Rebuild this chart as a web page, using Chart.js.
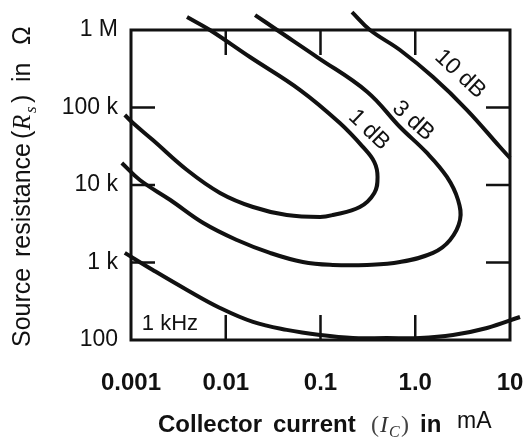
<!DOCTYPE html>
<html>
<head>
<meta charset="utf-8">
<script src="https://cdn.jsdelivr.net/npm/chart.js@4.4.1/dist/chart.umd.min.js"></script>
<style>
  html, body { margin: 0; padding: 0; background: #fff; }
  #noiseChart { display: block; }
</style>
</head>
<body>
<canvas id="noiseChart" width="523" height="441"></canvas>
<script>
// collector current in mA, source resistance in ohms
const xTicks = [0.001, 0.01, 0.1, 1, 10];
const xTickLabels = ['0.001', '0.01', '0.1', '1.0', '10'];
const yTicks = [100, 1e3, 1e4, 1e5, 1e6];
const yTickLabels = ['100', '1 k', '10 k', '100 k', '1 M'];

const oneDbCurrent = [0.00086, 0.00105, 0.0017, 0.0039, 0.0087, 0.0194, 0.044, 0.099, 0.135, 0.26, 0.37, 0.40, 0.37, 0.28, 0.16, 0.061, 0.018, 0.0068, 0.0039];
const oneDbResistance = [80000, 63000, 38000, 15600, 7900, 5200, 4100, 3870, 4100, 5200, 7900, 12700, 19800, 31000, 63000, 168000, 448000, 1000000, 1470000];

const threeDbCurrent = [0.0008, 0.00124, 0.0026, 0.0058, 0.0131, 0.0293, 0.065, 0.135, 0.31, 0.69, 1.54, 2.33, 2.97, 2.83, 2.16, 1.33, 0.69, 0.31, 0.092, 0.0348, 0.0204];
const threeDbResistance = [19200, 11600, 6400, 3230, 1950, 1330, 1015, 930, 930, 1015, 1330, 1950, 3540, 6400, 12700, 25900, 56000, 160000, 448000, 1000000, 1560000];

const tenDbUpperCurrent = [0.215, 0.333, 0.69, 1.54, 3.52, 7.84, 10];
const tenDbUpperResistance = [1700000, 1000000, 552000, 247000, 92800, 30900, 22300];

const tenDbLowerCurrent = [0.00086, 0.0017, 0.0039, 0.0087, 0.0194, 0.044, 0.099, 0.22, 0.50, 1.12, 2.5, 5.72, 12.75];
const tenDbLowerResistance = [1330, 800, 442, 259, 171, 135, 116, 106, 106, 106, 116, 143, 198];

const ink = '#111';
const sans = "'Liberation Sans', Arial, sans-serif";
const serif = "'Liberation Serif', 'Times New Roman', serif";

const curveLabels = [
    { text: '1 dB', current: 0.325, resistance: 51300, angle: 44 },
    { text: '3 dB', current: 0.947, resistance: 67000, angle: 42 },
    { text: '10 dB', current: 2.97, resistance: 270000, angle: 43 }
];

function toPoints(xs, ys) {
    return xs.map((v, i) => ({ x: v, y: ys[i] }));
}

function curve(xs, ys) {
    return {
        data: toPoints(xs, ys),
        showLine: true,
        borderColor: ink,
        borderWidth: 4,
        pointRadius: 0,
        tension: 0.4,
        fill: false,
        clip: false
    };
}

function drawPieces(ctx, pieces) {
    pieces.forEach(p => {
        ctx.font = p.font;
        ctx.fillStyle = p.color || ink;
        ctx.fillText(p.text, p.x, p.dy || 0);
    });
}

const frameAndLabels = {
    id: 'frameAndLabels',
    beforeDatasetsDraw(chart) {
        const { ctx, chartArea: a, scales: { x, y } } = chart;
        ctx.save();
        ctx.strokeStyle = ink;
        ctx.lineWidth = 3;
        ctx.strokeRect(a.left, a.top, a.right - a.left, a.bottom - a.top);
        ctx.lineWidth = 2.5;
        ctx.beginPath();
        xTicks.slice(1, -1).forEach(v => {
            const px = x.getPixelForValue(v);
            ctx.moveTo(px, a.top); ctx.lineTo(px, a.top + 25);
            ctx.moveTo(px, a.bottom); ctx.lineTo(px, a.bottom - 25);
        });
        yTicks.slice(1, -1).forEach(v => {
            const py = y.getPixelForValue(v);
            ctx.moveTo(a.left, py); ctx.lineTo(a.left + 24, py);
            ctx.moveTo(a.right, py); ctx.lineTo(a.right - 24, py);
        });
        ctx.stroke();
        ctx.restore();
    },
    afterDraw(chart) {
        const { ctx, scales: { x, y } } = chart;
        ctx.save();
        ctx.fillStyle = ink;

        // contour labels along the curves
        ctx.font = '23px ' + sans;
        ctx.textAlign = 'center';
        ctx.textBaseline = 'middle';
        curveLabels.forEach(l => {
            ctx.save();
            ctx.translate(x.getPixelForValue(l.current), y.getPixelForValue(l.resistance));
            ctx.rotate(l.angle * Math.PI / 180);
            ctx.fillText(l.text, 0, 0);
            ctx.restore();
        });

        ctx.font = '22px ' + sans;
        ctx.textAlign = 'left';
        ctx.textBaseline = 'alphabetic';
        ctx.fillText('1 kHz', x.getPixelForValue(0.0013), y.getPixelForValue(135));

        // x axis title
        ctx.save();
        ctx.translate(0, 432);
        drawPieces(ctx, [
            { text: 'Collector', x: 158, font: 'bold 24px ' + sans },
            { text: 'current', x: 273, font: 'bold 24px ' + sans },
            { text: '(', x: 371, font: '24px ' + serif, color: '#444' },
            { text: 'I', x: 380, font: 'italic 24px ' + serif, color: '#333' },
            { text: 'C', x: 389, dy: 5, font: 'italic 16px ' + serif, color: '#333' },
            { text: ')', x: 401, font: '24px ' + serif, color: '#444' },
            { text: 'in', x: 420, font: 'bold 24px ' + sans },
            { text: 'mA', x: 457, dy: -4, font: '23px ' + sans }
        ]);
        ctx.restore();

        // y axis title, read bottom to top
        ctx.save();
        ctx.translate(30, 347);
        ctx.rotate(-Math.PI / 2);
        drawPieces(ctx, [
            { text: 'Source', x: 0, font: '25px ' + sans },
            { text: 'resistance', x: 90, font: '25px ' + sans },
            { text: '(', x: 208, font: '25px ' + sans },
            { text: 'R', x: 217, font: 'italic 25px ' + serif },
            { text: 's', x: 234, dy: 6, font: 'italic 17px ' + serif },
            { text: ')', x: 244, font: '25px ' + sans },
            { text: 'in', x: 265, font: '25px ' + sans },
            { text: 'Ω', x: 302, font: '25px ' + sans }
        ]);
        ctx.restore();

        ctx.restore();
    }
};

const noiseChart = new Chart(document.getElementById('noiseChart'), {
    type: 'scatter',
    data: {
        datasets: [
            curve(oneDbCurrent, oneDbResistance),
            curve(threeDbCurrent, threeDbResistance),
            curve(tenDbUpperCurrent, tenDbUpperResistance),
            curve(tenDbLowerCurrent, tenDbLowerResistance)
        ]
    },
    options: {
        responsive: false,
        animation: false,
        devicePixelRatio: 1,
        layout: { padding: { top: 30, right: 13, left: 0, bottom: 0 } },
        plugins: {
            legend: { display: false },
            tooltip: { enabled: false }
        },
        scales: {
            x: {
                type: 'logarithmic',
                min: 0.001,
                max: 10,
                grid: { display: false, drawTicks: false },
                border: { display: false },
                afterBuildTicks: scale => { scale.ticks = xTicks.map(v => ({ value: v })); },
                afterFit: scale => {
                    scale.height = 101;
                    scale.paddingLeft = 0;
                    scale.paddingRight = 0;
                },
                ticks: {
                    autoSkip: false,
                    maxRotation: 0,
                    padding: 29,
                    color: ink,
                    font: { family: sans, size: 24, weight: 'bold' },
                    callback: value => xTickLabels[xTicks.indexOf(value)]
                }
            },
            y: {
                type: 'logarithmic',
                min: 100,
                max: 1e6,
                grid: { display: false, drawTicks: false },
                border: { display: false },
                afterBuildTicks: scale => { scale.ticks = yTicks.map(v => ({ value: v })); },
                afterFit: scale => {
                    scale.width = 131;
                    scale.paddingTop = 0;
                    scale.paddingBottom = 0;
                },
                ticks: {
                    autoSkip: false,
                    padding: 13,
                    color: ink,
                    font: { family: sans, size: 23 },
                    callback: value => yTickLabels[yTicks.indexOf(value)]
                }
            }
        }
    },
    plugins: [frameAndLabels]
});
</script>
</body>
</html>
